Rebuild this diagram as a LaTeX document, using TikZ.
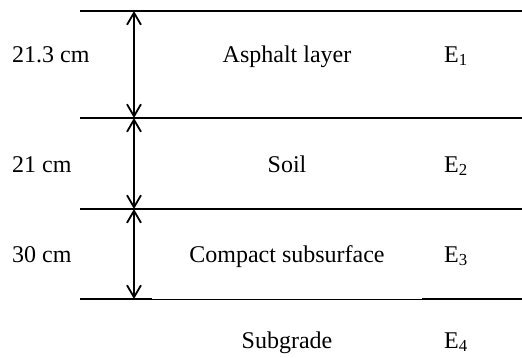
\documentclass[tikz,border=0pt]{standalone}
\usepackage{fontspec}
\setmainfont{Liberation Serif}
\usetikzlibrary{arrows.meta}
\begin{document}
\begin{tikzpicture}[x=1pt,y=-1pt,
  layerline/.style={line width=1.8pt},
  thinline/.style={line width=0.9pt},
  dimarrow/.style={line width=1.8pt,
    {Straight Barb[length=12pt,width=14pt,line width=1.8pt]}-{Straight Barb[length=12pt,width=14pt,line width=1.8pt]}},
  lbl/.style={inner sep=0pt,font=\fontsize{24}{28}\selectfont}]
\useasboundingbox (0,0) rectangle (522,357);

% layer boundaries
\coordinate (l0w) at (80,11);   \coordinate (l0e) at (522,11);
\coordinate (l1w) at (80,118);  \coordinate (l1e) at (522,118);
\coordinate (l2w) at (80,209);  \coordinate (l2e) at (522,209);
\coordinate (l3w) at (80,299);  \coordinate (l3e) at (522,299);
\coordinate (l3a) at (152,299); \coordinate (l3b) at (422,299);

\draw[layerline] (l0w) -- (l0e);
\draw[layerline] (l1w) -- (l1e);
\draw[layerline] (l2w) -- (l2e);
\draw[layerline] (l3w) -- (l3a);
\draw[thinline]  (l3a) -- (l3b);
\draw[layerline] (l3b) -- (l3e);

% thickness dimensions
\coordinate (d0) at (134,11);
\coordinate (d1) at (134,118);
\coordinate (d2) at (134,209);
\coordinate (d3) at (134,299);
\draw[dimarrow] (d0) -- (d1);
\draw[dimarrow] (d1) -- (d2);
\draw[dimarrow] (d2) -- (d3);

% thickness labels
\node[lbl,anchor=base west] (t1) at (12,62)  {21.3 cm};
\node[lbl,anchor=base west] (t2) at (12,172) {21 cm};
\node[lbl,anchor=base west] (t3) at (12,262) {30 cm};

% layer names
\node[lbl,anchor=base] (n1) at (287,62)  {Asphalt layer};
\node[lbl,anchor=base] (n2) at (287,172) {Soil};
\node[lbl,anchor=base] (n3) at (287,262) {Compact subsurface};
\node[lbl,anchor=base] (n4) at (287,348) {Subgrade};

% moduli
\node[lbl,anchor=base west] (e1) at (444,62)  {E\textsubscript{1}};
\node[lbl,anchor=base west] (e2) at (444,172) {E\textsubscript{2}};
\node[lbl,anchor=base west] (e3) at (444,262) {E\textsubscript{3}};
\node[lbl,anchor=base west] (e4) at (444,348) {E\textsubscript{4}};
\end{tikzpicture}
\end{document}
